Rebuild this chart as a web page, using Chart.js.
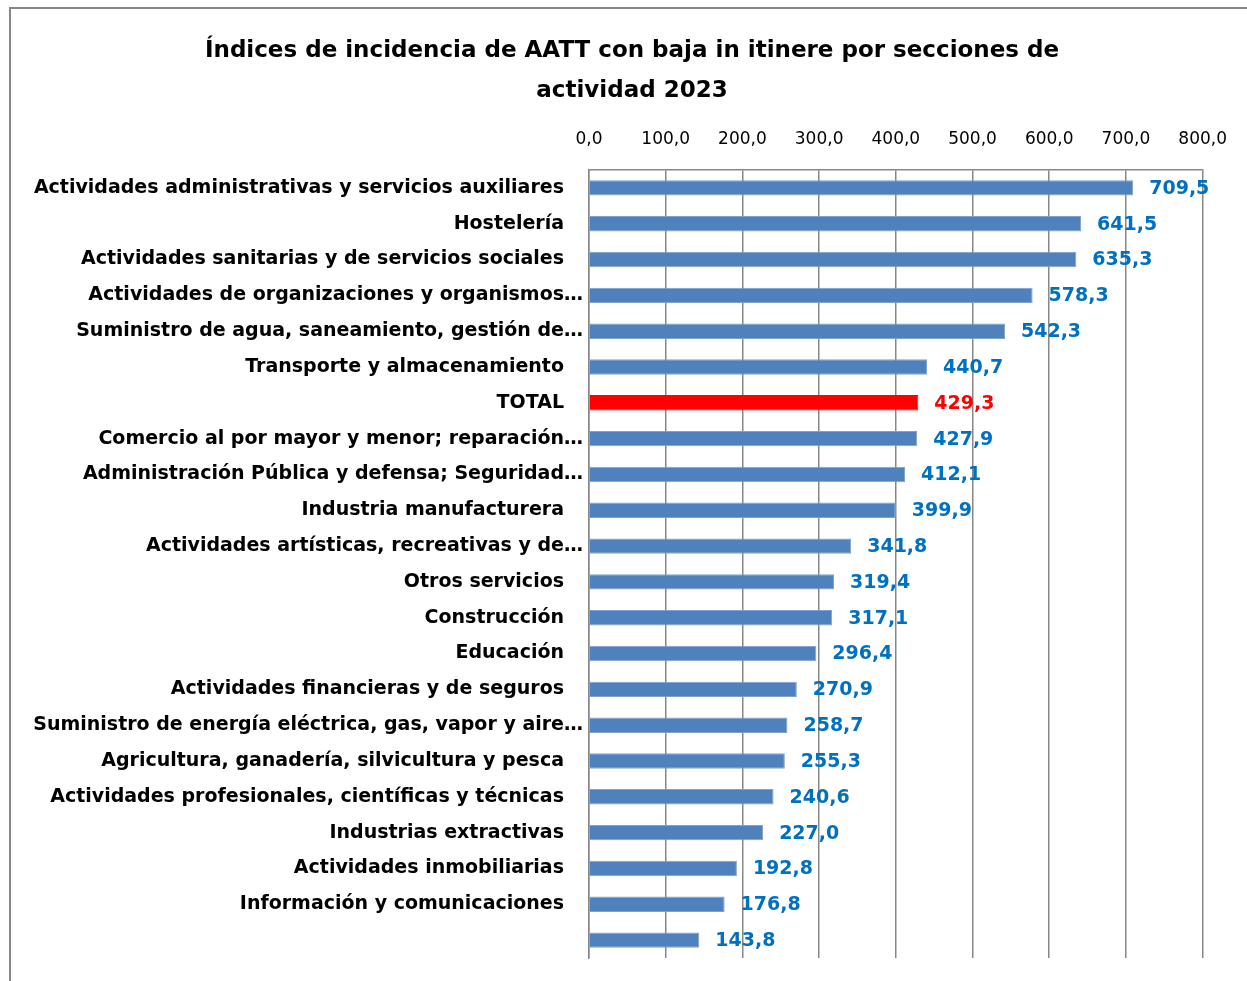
<!DOCTYPE html>
<html>
<head>
<meta charset="utf-8">
<script src="https://cdn.jsdelivr.net/npm/chart.js@4.4.1/dist/chart.umd.min.js"></script>
<style>
  html, body { margin: 0; padding: 0; background: #fff; }
  #wrap { position: absolute; left: 0; top: 0; width: 1247px; height: 981px; }
  #frame { position: absolute; left: 9px; top: 7px; width: 1300px; height: 1100px; border: 2px solid #878787; box-sizing: border-box; pointer-events: none; }
</style>
</head>
<body>
<div id="wrap">
  <canvas id="c" width="1247" height="981"></canvas>
  <div id="frame"></div>
</div>
<script>
const titleLines = ['Índices de incidencia de AATT con baja in itinere por secciones de', 'actividad 2023'];
const categories = [
  'Actividades administrativas y servicios auxiliares',
  'Hostelería',
  'Actividades sanitarias y de servicios sociales',
  'Actividades de organizaciones y organismos…',
  'Suministro de agua, saneamiento, gestión de…',
  'Transporte y almacenamiento',
  'TOTAL',
  'Comercio al por mayor y menor; reparación…',
  'Administración Pública y defensa; Seguridad…',
  'Industria manufacturera',
  'Actividades artísticas, recreativas y de…',
  'Otros servicios',
  'Construcción',
  'Educación',
  'Actividades financieras y de seguros',
  'Suministro de energía eléctrica, gas, vapor y aire…',
  'Agricultura, ganadería, silvicultura y pesca',
  'Actividades profesionales, científicas y técnicas',
  'Industrias extractivas',
  'Actividades inmobiliarias',
  'Información y comunicaciones',
  ''
];
const values = [709.5, 641.5, 635.3, 578.3, 542.3, 440.7, 429.3, 427.9, 412.1, 399.9, 341.8, 319.4, 317.1, 296.4, 270.9, 258.7, 255.3, 240.6, 227.0, 192.8, 176.8, 143.8];
const highlightCategory = 'TOTAL';
const xMin = 0, xMax = 800, xStep = 100;

const FONT = '"DejaVu Sans", sans-serif';
const fmt = v => v.toFixed(1).replace('.', ',');
const barColors = categories.map(c => c === highlightCategory ? '#FF0000' : '#4F81BD');
const barBorders = categories.map(c => c === highlightCategory ? '#FF0000' : '#7FA1CF');
const labelColors = categories.map(c => c === highlightCategory ? '#FF0000' : '#0070C0');

const valueLabels = {
  id: 'valueLabels',
  afterDatasetsDraw(chart) {
    const ctx = chart.ctx;
    const meta = chart.getDatasetMeta(0);
    ctx.save();
    ctx.font = 'bold 19px ' + FONT;
    ctx.textAlign = 'left';
    ctx.textBaseline = 'middle';
    meta.data.forEach((el, i) => {
      ctx.fillStyle = labelColors[i];
      ctx.fillText(fmt(values[i]), el.x + 16, el.y + 1);
    });
    ctx.restore();
  }
};

const titleDraw = {
  id: 'titleDraw',
  afterDraw(chart) {
    const ctx = chart.ctx;
    ctx.save();
    ctx.font = 'bold 23px ' + FONT;
    ctx.fillStyle = '#000';
    ctx.textAlign = 'center';
    ctx.textBaseline = 'middle';
    titleLines.forEach((t, i) => ctx.fillText(t, 632, 51 + i * 40));
    ctx.restore();
  }
};

new Chart(document.getElementById('c'), {
  type: 'bar',
  data: {
    labels: categories,
    datasets: [{
      data: values,
      backgroundColor: barColors,
      borderColor: barBorders,
      borderWidth: 1,
      barPercentage: 0.43,
      categoryPercentage: 1.0
    }]
  },
  options: {
    indexAxis: 'y',
    responsive: false,
    animation: false,
    layout: { padding: { left: 18, right: 44, top: 110, bottom: 23 } },
    plugins: {
      legend: { display: false },
      tooltip: { enabled: false },
      title: { display: false }
    },
    scales: {
      x: {
        position: 'top',
        min: xMin, max: xMax,
        afterFit(scale) { scale.height = 60; },
        ticks: {
          stepSize: xStep,
          color: '#000',
          padding: 20,
          font: { family: FONT, size: 17 },
          callback: v => fmt(v)
        },
        grid: { color: '#878787', lineWidth: 1.5, drawTicks: false },
        border: { display: true, color: '#878787', width: 1.5 }
      },
      y: {
        afterFit(scale) { scale.width = 571; },
        ticks: {
          color: '#000',
          padding: 6,
          autoSkip: false,
          font: { family: FONT, size: 19, weight: 'bold' },
          callback(v, i) {
            const l = categories[i];
            return l.endsWith('…') || l === '' ? l : l + '\u2003';
          }
        },
        grid: { display: false, drawTicks: false },
        border: { display: true, color: '#878787', width: 1.5 }
      }
    }
  },
  plugins: [valueLabels, titleDraw]
});
</script>
</body>
</html>
